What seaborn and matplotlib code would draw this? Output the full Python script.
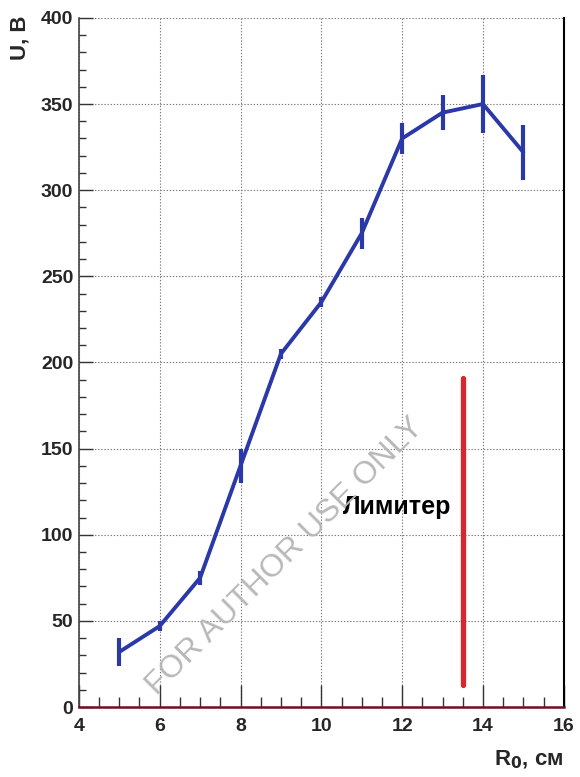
import matplotlib
matplotlib.use("Agg")
import matplotlib.pyplot as plt
from matplotlib.ticker import MultipleLocator
import pandas as pd
import seaborn as sns

# Floating potential vs. radial position
radius_cm = [5, 6, 7, 8, 9, 10, 11, 12, 13, 14, 15]
potential_v = [32, 47, 75, 140, 205, 235, 275, 330, 345, 350, 322]
potential_err = [8, 3, 4, 10, 3, 3, 9, 9, 10, 17, 16]

# Limiter position and its drawn extent
limiter_r = [13.5, 13.5]
limiter_u = [13, 191]
limiter_label = "Лимитер"

x_ticks = [4, 6, 8, 10, 12, 14, 16]
y_ticks = [0, 50, 100, 150, 200, 250, 300, 350, 400]

sns.set_style("ticks")
plt.rcParams["font.family"] = ["Liberation Sans", "DejaVu Sans"]
plt.rcParams["font.weight"] = "bold"

df = pd.DataFrame({"r": radius_cm, "u": potential_v, "err": potential_err})
lim = pd.DataFrame({"r": limiter_r, "u": limiter_u})

fig = plt.figure(figsize=(5.8, 7.77), dpi=100)
ax = fig.add_axes([0.136, 0.090, 0.836, 0.887])

blue = "#2a38a8"
sns.lineplot(data=df, x="r", y="u", ax=ax, color=blue, linewidth=2.8, zorder=4)
ax.errorbar(df["r"], df["u"], yerr=df["err"], fmt="none", ecolor=blue,
            elinewidth=3.0, capsize=0, zorder=4)

sns.lineplot(data=lim, x="r", y="u", ax=ax, color="#d8262b", linewidth=3.8,
             estimator=None, sort=False, zorder=3)
ax.text(11.87, 116, limiter_label, fontsize=18, fontweight="bold",
        ha="center", va="center", color="black", zorder=5)

ax.set_xlim(4, 16)
ax.set_ylim(0, 400)
ax.set_xticks(x_ticks)
ax.set_yticks(y_ticks)
ax.xaxis.set_minor_locator(MultipleLocator(0.5))
ax.yaxis.set_minor_locator(MultipleLocator(10))

ax.grid(True, which="major", linestyle=(0, (1.2, 1.6)), color="#7a7a7a",
        linewidth=0.8, zorder=0)
ax.set_axisbelow(True)

ax.tick_params(axis="both", which="both", bottom=True, left=True,
               top=False, right=False)
ax.tick_params(axis="x", which="major", direction="in", length=16, width=1.0,
               labelsize=14, pad=8, color="#333333")
ax.tick_params(axis="x", which="minor", direction="in", length=7, width=1.0,
               color="#333333")
ax.tick_params(axis="y", which="major", direction="in", length=10, width=1.0,
               labelsize=14, pad=4, color="#333333")
ax.tick_params(axis="y", which="minor", direction="in", length=5, width=1.0,
               color="#333333")
for lbl in ax.get_xticklabels() + ax.get_yticklabels():
    lbl.set_fontweight("bold")

ax.spines["top"].set_visible(False)
ax.spines["left"].set_color("#444444")
ax.spines["left"].set_linewidth(1.2)
ax.spines["right"].set_color("black")
ax.spines["right"].set_linewidth(1.5)
ax.spines["bottom"].set_color("#6e1020")
ax.spines["bottom"].set_linewidth(1.8)

ax.set_xlabel("")
ax.set_ylabel("")
fig.text(0.972, 0.022, "R$_{\\mathbf{0}}$, см", fontsize=16, fontweight="bold",
         ha="right", va="center")
fig.text(0.035, 0.952, "U, В", fontsize=16, fontweight="bold", rotation=90,
         ha="center", va="center")

# Publisher watermark
fig.text(0.491, 0.284, "FOR AUTHOR USE ONLY", fontsize=23, fontweight="normal",
         color="#b8b8b8", rotation=45, ha="center", va="center",
         zorder=10)

fig.savefig("out.png", dpi=100)
